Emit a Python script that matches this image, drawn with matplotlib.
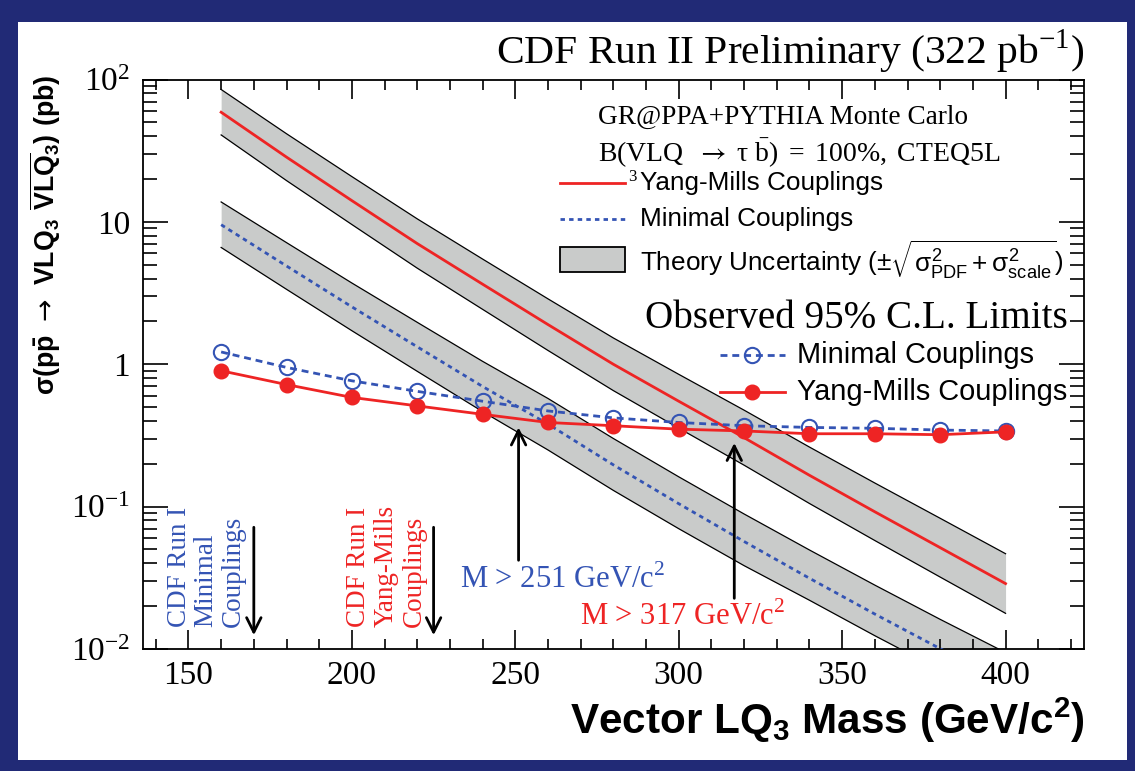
import numpy as np
import matplotlib
matplotlib.use("Agg")
import matplotlib.pyplot as plt
from matplotlib.patches import Rectangle
from matplotlib.lines import Line2D
from matplotlib.ticker import FixedLocator, LogLocator, NullFormatter, MultipleLocator

# ---------------- data ----------------
mass = [160, 180, 200, 220, 240, 260, 280, 300, 320, 340, 360, 380, 400]

ym_theory = [58.9, 28.5, 14.1, 7.04, 3.65, 1.90, 1.00, 0.550, 0.305, 0.166, 0.092, 0.0515, 0.0288]
ym_theory_hi = [85.1, 41.6, 20.8, 10.5, 5.48, 2.88, 1.53, 0.850, 0.476, 0.262, 0.1465, 0.0828, 0.0467]
ym_theory_lo = [40.8, 19.5, 9.58, 4.73, 2.43, 1.25, 0.653, 0.356, 0.1955, 0.1052, 0.0578, 0.0320, 0.0178]

min_theory = [9.55, 4.90, 2.53, 1.326, 0.698, 0.380, 0.1965, 0.1049, 0.0569, 0.0314, 0.0176, 0.01005, 0.00582]
min_theory_hi = [13.8, 7.15, 3.72, 1.97, 1.048, 0.575, 0.301, 0.162, 0.0888, 0.0496, 0.0281, 0.01615, 0.00944]
min_theory_lo = [6.61, 3.36, 1.72, 0.892, 0.465, 0.250, 0.1300, 0.0700, 0.0385, 0.0220, 0.0124, 0.00713, 0.00413]

min_limit = [1.22, 0.95, 0.765, 0.645, 0.55, 0.47, 0.42, 0.39, 0.37, 0.36, 0.355, 0.345, 0.34]
ym_limit = [0.90, 0.72, 0.585, 0.51, 0.445, 0.39, 0.37, 0.35, 0.34, 0.325, 0.325, 0.32, 0.335]

min_mass_limit = 251
ym_mass_limit = 317
run1_min_limit = 170
run1_ym_limit = 225

y_ticks = [0.01, 0.1, 1, 10, 100]
y_ticklabels = [r"$\mathdefault{10^{-2}}$", r"$\mathdefault{10^{-1}}$", "1", "10", r"$\mathdefault{10^{2}}$"]
x_ticks = [150, 200, 250, 300, 350, 400]

# ---------------- style ----------------
plt.rcParams.update({
    "mathtext.fontset": "custom",
    "mathtext.rm": "Liberation Sans",
    "mathtext.it": "Liberation Sans",
    "mathtext.bf": "Liberation Sans:bold",
    "mathtext.sf": "Liberation Sans",
    "lines.scale_dashes": False,
})
SERIF = "Liberation Serif"
SANS = "Liberation Sans"
RED = "#ee2424"
BLUE = "#3454b4"
GRAY = "#c9cbca"

W, H = 1135, 771
fig = plt.figure(figsize=(W / 100, H / 100), dpi=100, facecolor="#212a76")
fig.patches.append(Rectangle((18 / W, 1 - 760 / H), (1127 - 18) / W, (760 - 22) / H,
                             transform=fig.transFigure, facecolor="white",
                             edgecolor="none", zorder=-5))

AX_L, AX_R, AX_T, AX_B = 142.7, 1084.0, 79.5, 649.0
ax = fig.add_axes([AX_L / W, 1 - AX_B / H, (AX_R - AX_L) / W, (AX_B - AX_T) / H])
ax.set_zorder(2)
ax.set_yscale("log")
ax.set_xlim(136, 424)
ax.set_ylim(0.01, 100)


def pa(px, py):
    """pixel -> axes fraction"""
    return (px - AX_L) / (AX_R - AX_L), (AX_B - py) / (AX_B - AX_T)


renderer = fig.canvas.get_renderer()


def fit_w(t, target):
    w = t.get_window_extent(renderer).width
    t.set_fontsize(t.get_fontsize() * target / w)
    return t


def fit_h(t, target):
    h = t.get_window_extent(renderer).height
    t.set_fontsize(t.get_fontsize() * target / h)
    return t


# theory bands
for lo, hi in ((ym_theory_lo, ym_theory_hi), (min_theory_lo, min_theory_hi)):
    ax.fill_between(mass, lo, hi, color=GRAY, lw=0, zorder=1)
    ax.plot(mass, hi, color="black", lw=0.9, zorder=2)
    ax.plot(mass, lo, color="black", lw=0.9, zorder=2)

ax.plot(mass, ym_theory, color=RED, lw=2.0, zorder=3)
ax.plot(mass, min_theory, color=BLUE, lw=2.0, dashes=(3.2, 3.0), zorder=3)

# observed limits
ax.plot(mass, min_limit, color=BLUE, lw=2.0, dashes=(5.0, 3.5), marker="o",
        mfc="none", mec=BLUE, ms=11, mew=1.5, zorder=5)
ax.plot(mass, ym_limit, color=RED, lw=2.0, marker="o", ms=10.5, mec=RED, zorder=6)

# arrows
arrow_kw = dict(arrowstyle="->", color="black", lw=2.0, mutation_scale=26,
                shrinkA=0, shrinkB=0)
ax.annotate("", xy=(min_mass_limit, 0.36), xytext=(min_mass_limit, 0.042), arrowprops=arrow_kw, zorder=7)
ax.annotate("", xy=(ym_mass_limit, 0.28), xytext=(ym_mass_limit, 0.0227), arrowprops=arrow_kw, zorder=7)
ax.annotate("", xy=(run1_min_limit, 0.0125), xytext=(run1_min_limit, 0.0716), arrowprops=arrow_kw, zorder=7)
ax.annotate("", xy=(run1_ym_limit, 0.0125), xytext=(run1_ym_limit, 0.0716), arrowprops=arrow_kw, zorder=7)

# mass-limit labels
t = ax.text(*pa(460, 580), r"M > 251 GeV/c$^{\mathdefault{2}}$", transform=ax.transAxes,
            family=SERIF, color=BLUE, fontsize=19, ha="left", va="center")
fit_w(t, 205)
t2 = ax.text(*pa(580, 617), r"M > 317 GeV/c$^{\mathdefault{2}}$", transform=ax.transAxes,
             family=SERIF, color=RED, fontsize=t.get_fontsize(), ha="left", va="center")

# Run I rotated labels
for xs, lines, col in (((180, 206, 233), ("CDF Run I", "Minimal", "Couplings"), BLUE),
                       ((359, 386, 414), ("CDF Run I", "Yang-Mills", "Couplings"), RED)):
    for px, s in zip(xs, lines):
        ax.text(*pa(px, 627), s, transform=ax.transAxes, rotation=90, family=SERIF,
                color=col, fontsize=19.5, ha="center", va="bottom")

# ---- upper legend block ----
t = ax.text(*pa(598, 117), "GR@PPA+PYTHIA Monte Carlo", transform=ax.transAxes,
            family=SERIF, fontsize=20, ha="left", va="center")
fit_w(t, 370)
fs_info = t.get_fontsize()
t = ax.text(*pa(598, 153),
            r"$\mathdefault{B(VLQ}\ \ \rightarrow\ \mathdefault{\tau\ \bar{b})\ =\ 100\%,\ CTEQ5L}$",
            transform=ax.transAxes, family=SERIF, fontsize=fs_info, ha="left", va="center",
            math_fontfamily="stix")
fit_w(t, 402)
ax.text(*pa(632, 177), "3", transform=ax.transAxes, family=SERIF,
        fontsize=fs_info * 0.62, ha="center", va="center")

x0 = pa(560, 0)[0]
x1 = pa(625, 0)[0]
ax.add_line(Line2D([x0, x1], [pa(0, 183)[1]] * 2, transform=ax.transAxes, color=RED, lw=2.0, clip_on=False))
ax.add_line(Line2D([x0, x1], [pa(0, 219)[1]] * 2, transform=ax.transAxes, color=BLUE, lw=2.0,
                   dashes=(3.2, 3.0), clip_on=False))
bx, by = pa(560, 272)
ax.add_patch(Rectangle((bx, by), x1 - x0, pa(0, 247)[1] - by, transform=ax.transAxes,
                       facecolor=GRAY, edgecolor="black", lw=1.3, clip_on=False))
t = ax.text(*pa(640, 183), "Yang-Mills Couplings", transform=ax.transAxes,
            family=SANS, fontsize=17, ha="left", va="center")
fit_w(t, 244)
fs_leg1 = t.get_fontsize()
ax.text(*pa(640, 219), "Minimal Couplings", transform=ax.transAxes,
        family=SANS, fontsize=fs_leg1, ha="left", va="center")
ax.text(*pa(640, 260), r"Theory Uncertainty ($\pm\sqrt{\sigma^{2}_{PDF} + \sigma^{2}_{scale}}$)",
        transform=ax.transAxes, family=SANS, fontsize=fs_leg1, ha="left", va="center")

# ---- observed limits legend ----
t = ax.text(*pa(1068, 318), "Observed 95% C.L. Limits", transform=ax.transAxes,
            family=SERIF, fontsize=23, ha="right", va="center")
fit_w(t, 423)
lx0, lx1 = pa(720, 0)[0], pa(785, 0)[0]
ly1, ly2 = pa(0, 355)[1], pa(0, 392)[1]
ax.add_line(Line2D([lx0, lx1], [ly1, ly1], transform=ax.transAxes, color=BLUE, lw=2.0,
                   dashes=(5.0, 3.5), clip_on=False))
ax.add_line(Line2D([(lx0 + lx1) / 2], [ly1], transform=ax.transAxes, color=BLUE, marker="o",
                   mfc="none", mec=BLUE, ms=11, mew=1.5, clip_on=False))
ax.add_line(Line2D([lx0, lx1], [ly2, ly2], transform=ax.transAxes, color=RED, lw=2.0, clip_on=False))
ax.add_line(Line2D([(lx0 + lx1) / 2], [ly2], transform=ax.transAxes, color=RED, marker="o",
                   ms=10.5, clip_on=False))
t = ax.text(*pa(797, 392), "Yang-Mills Couplings", transform=ax.transAxes,
            family=SANS, fontsize=18, ha="left", va="center")
fit_w(t, 270)
ax.text(*pa(797, 355), "Minimal Couplings", transform=ax.transAxes,
        family=SANS, fontsize=t.get_fontsize(), ha="left", va="center")

# ---------------- axes styling ----------------
for s in ax.spines.values():
    s.set_linewidth(1.3)
ax.xaxis.set_major_locator(FixedLocator(x_ticks))
ax.xaxis.set_minor_locator(MultipleLocator(10))
ax.yaxis.set_major_locator(FixedLocator(y_ticks))
ax.yaxis.set_minor_locator(LogLocator(base=10, subs=np.arange(2, 10)))
ax.yaxis.set_minor_formatter(NullFormatter())
ax.set_yticklabels(y_ticklabels)
ax.tick_params(which="both", direction="in", top=True, right=True, width=1.2)
ax.tick_params(axis="x", which="major", length=14, pad=8, labelsize=24)
ax.tick_params(axis="x", which="minor", length=7.5)
ax.tick_params(axis="y", which="major", length=18, pad=9, labelsize=24)
ax.tick_params(axis="y", which="minor", length=10)
for lab in ax.get_xticklabels() + ax.get_yticklabels():
    lab.set_family(SERIF)

# titles / axis labels
t = fig.text(1085 / W, 1 - 52 / H, r"CDF Run II Preliminary (322 pb$^{\mathdefault{-1}}$)",
             family=SERIF, fontsize=28, ha="right", va="center")
fit_w(t, 588)
t = fig.text(1085 / W, 1 - 720 / H, r"$\mathdefault{Vector\ LQ_{3}\ Mass\ (GeV/c^{2})}$",
             family=SANS, weight="bold", fontsize=26, ha="right", va="center")
fit_w(t, 515)
t = fig.text(45 / W, 1 - 75 / H,
             r"$\mathdefault{\sigma(p\bar{p}}\ \rightarrow\ \mathdefault{VLQ_{3}\ \overline{VLQ}_{3})\ (pb)}$",
             family=SANS, weight="bold", fontsize=22, rotation=90, ha="center", va="top",
             math_fontfamily="dejavusans")
fit_h(t, 320)

fig.savefig("out.png", dpi=100, facecolor=fig.get_facecolor())
